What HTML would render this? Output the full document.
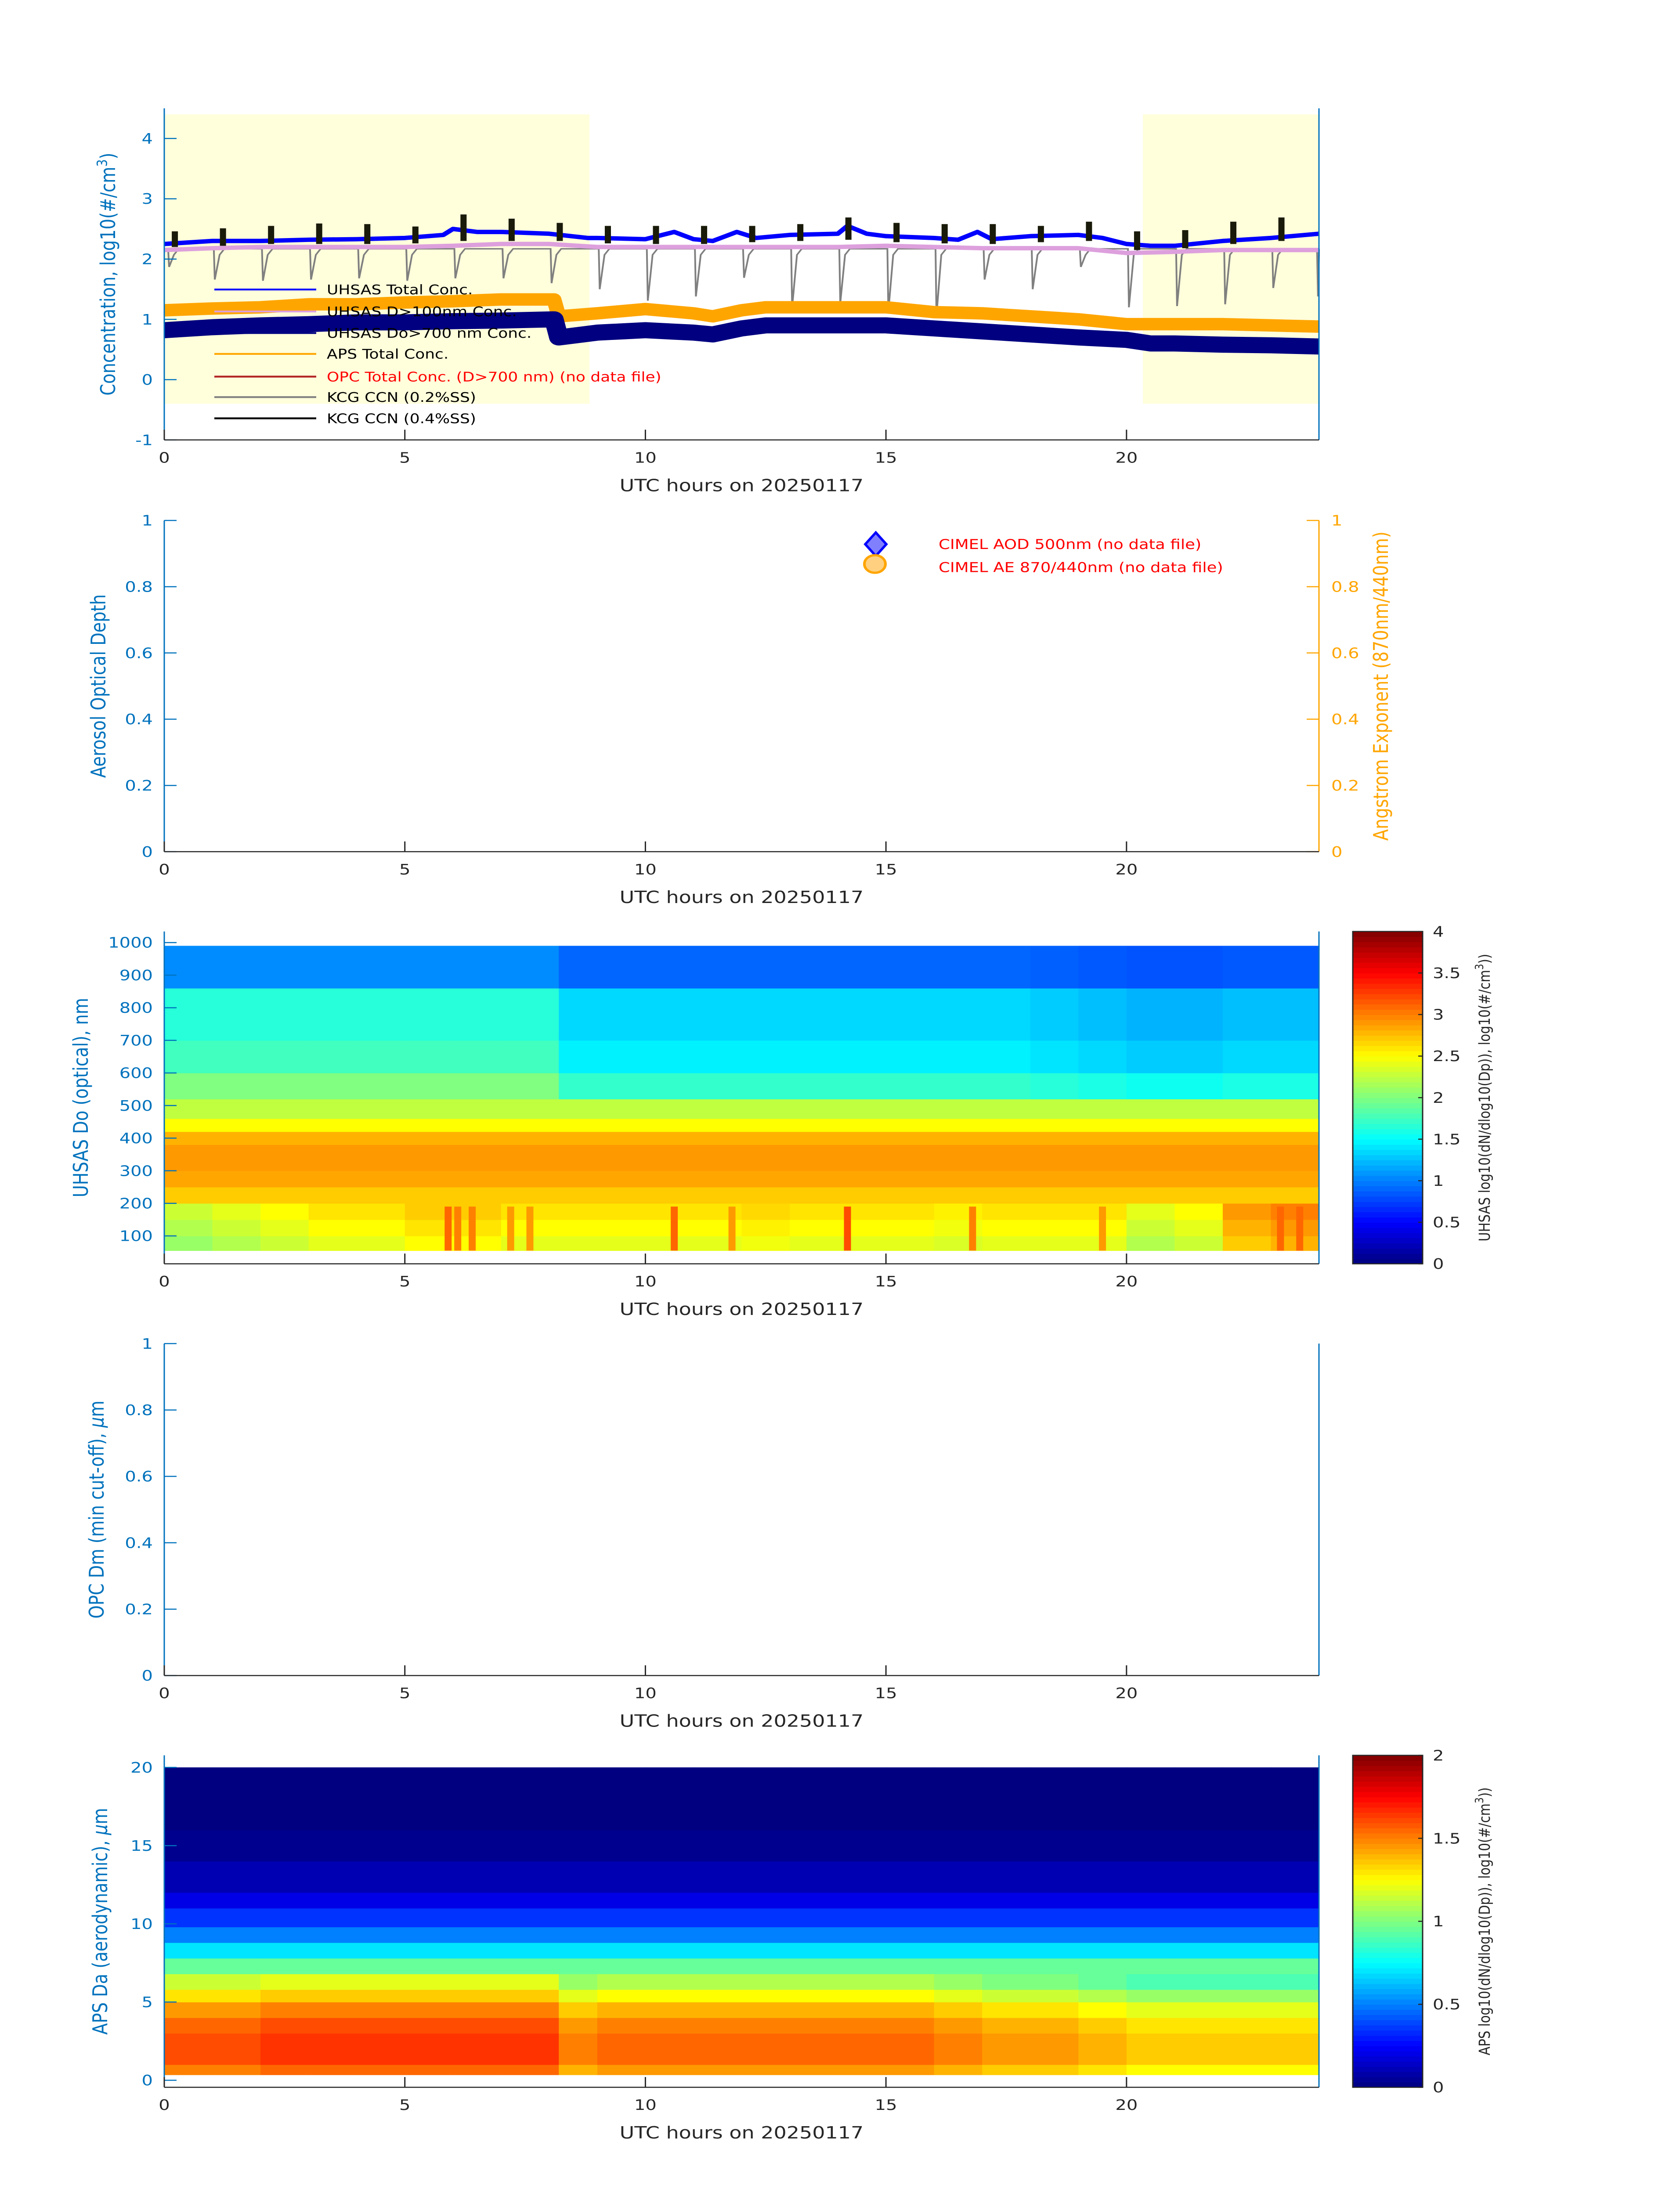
<!DOCTYPE html>
<html><head><meta charset="utf-8"><style>
html,body{margin:0;padding:0;background:#fff;width:100%;height:100%;overflow:hidden;}
svg{display:block;position:absolute;left:0;top:0;width:100vw;height:100vh;font-family:"DejaVu Sans","Liberation Sans",sans-serif;}
</style></head><body>
<svg id="fig" viewBox="0 0 3825 6000" preserveAspectRatio="none" xmlns="http://www.w3.org/2000/svg"></svg>
<script>
// ===== Panel 1 data =====
const uhsasT = [0,1,2,3,4,5,5.8,6,6.5,7,8,8.8,9,10,10.6,11,11.4,11.9,12.3,13,14,14.2,14.6,15,16,16.5,16.9,17.2,18,19,19.5,20,20.5,21,22,23,24];
const uhsasTotal = [2.25,2.3,2.3,2.32,2.33,2.35,2.4,2.5,2.45,2.45,2.42,2.35,2.35,2.33,2.45,2.33,2.3,2.45,2.35,2.4,2.42,2.55,2.42,2.38,2.35,2.32,2.45,2.33,2.38,2.4,2.35,2.25,2.22,2.22,2.3,2.35,2.42];
const hourT = [0,1,2,3,4,5,6,7,8,9,10,11,12,13,14,15,16,17,18,19,20,21,22,23,24];
const uhsas100 = [2.15,2.18,2.2,2.2,2.2,2.2,2.22,2.25,2.25,2.2,2.2,2.2,2.2,2.2,2.2,2.22,2.2,2.18,2.18,2.18,2.1,2.12,2.15,2.15,2.15];
const apsT = [0,1,2,3,4,5,6,7,8.1,8.2,9,10,11,11.4,12,12.5,13,14,15,16,17,18,19,20,20.5,21,22,23,24];
const apsTotal = [1.15,1.18,1.2,1.25,1.25,1.28,1.3,1.33,1.33,1.05,1.1,1.17,1.1,1.05,1.15,1.2,1.2,1.2,1.2,1.12,1.1,1.05,1.0,0.92,0.92,0.92,0.92,0.9,0.88];
const uhsas700 = [0.82,0.87,0.9,0.92,0.95,0.95,0.97,0.98,1.0,0.7,0.78,0.82,0.78,0.75,0.85,0.9,0.9,0.9,0.9,0.85,0.8,0.75,0.7,0.66,0.6,0.6,0.58,0.57,0.55];
const ccn02T = [0.1,1.05,2.05,3.05,4.05,5.05,6.05,7.05,8.05,9.05,10.05,11.05,12.05,13.05,14.05,15.05,16.05,17.05,18.05,19.05,20.05,21.05,22.05,23.05,23.98];
const ccn02Min = [1.87,1.66,1.64,1.66,1.68,1.64,1.68,1.68,1.6,1.5,1.31,1.38,1.69,1.2,1.27,1.13,1.06,1.66,1.5,1.87,1.2,1.22,1.25,1.52,1.38];
const ccn02Base = 2.17;
const ccn04T = [0.22,1.22,2.22,3.22,4.22,5.22,6.22,7.22,8.22,9.22,10.22,11.22,12.22,13.22,14.22,15.22,16.22,17.22,18.22,19.22,20.22,21.22,22.22,23.22];
const ccn04Top = [2.46,2.51,2.55,2.59,2.58,2.54,2.74,2.67,2.6,2.55,2.55,2.55,2.55,2.58,2.69,2.6,2.58,2.58,2.55,2.62,2.46,2.48,2.62,2.69];
const ccn04Bot = [2.2,2.22,2.25,2.25,2.25,2.26,2.3,2.3,2.3,2.26,2.25,2.25,2.28,2.3,2.32,2.28,2.26,2.25,2.28,2.3,2.15,2.18,2.25,2.3];
const shadeStart = [0,20.34];
const shadeEnd = [8.84,24];
// ===== Heatmap data =====
const timeEdges = [0,1,2,3,4,5,6,7,8.2,9,10,11,12,13,14,15,16,17,18,19,20,21,22,23,24];
const uhsasEdges = [55,100,150,200,250,300,380,420,460,520,600,700,860,990];
const uhsasProfile = [2.3,2.4,2.5,2.7,2.85,2.9,2.8,2.5,2.25,2.0,1.75,1.65,1.05];
const uhsasUpShift = [0,0,0,0,0,0,0,0,-0.3,-0.3,-0.3,-0.3,-0.3,-0.3,-0.3,-0.3,-0.3,-0.3,-0.35,-0.4,-0.45,-0.45,-0.4,-0.4];
const uhsasLowShift = [-0.2,-0.1,0,0.1,0.1,0.2,0.2,0.1,0.1,0.1,0.1,0.1,0.15,0.1,0.1,0.1,0.05,0.1,0.1,0.1,-0.1,0,0.4,0.5];
const streakT = [5.9,6.1,6.4,7.2,7.6,10.6,11.8,14.2,16.8,19.5,23.2,23.6];
const streakV = [3.1,3.0,3.0,2.9,2.9,3.1,2.9,3.2,3.0,2.9,3.1,3.1];
const apsEdges = [0.35,1,2,3,4,5,5.8,6.8,7.8,8.8,9.8,11,12,14,16,20];
const apsProfile = [1.5,1.6,1.6,1.55,1.45,1.3,1.15,0.95,0.7,0.5,0.35,0.2,0.1,0.03,0];
const apsLowShift = [0,0,0.05,0.05,0.05,0.05,0.05,0.05,-0.1,-0.05,-0.05,-0.05,-0.05,-0.05,-0.05,-0.05,-0.1,-0.15,-0.15,-0.2,-0.25,-0.25,-0.25,-0.25];
const xTicks = [0,5,10,15,20];

const NS = "http://www.w3.org/2000/svg";
const svg = document.getElementById('fig');
function el(tag, attrs, parent, text){
  const e = document.createElementNS(NS, tag);
  for (const k in attrs) e.setAttribute(k, attrs[k]);
  if (text !== undefined) e.textContent = text;
  (parent||svg).appendChild(e);
  return e;
}
const X0 = 374, X1 = 3003;
function xs(t){ return X0 + (t/24)*(X1-X0); }
function ymap(top, bot, vmin, vmax){ return v => bot - (v-vmin)/(vmax-vmin)*(bot-top); }
function jet(v){
  const t = Math.max(0, Math.min(1, v));
  const c = x => Math.round(255*Math.max(0, Math.min(1, x)));
  return `rgb(${c(1.5-Math.abs(4*t-3))},${c(1.5-Math.abs(4*t-2))},${c(1.5-Math.abs(4*t-1))})`;
}
const BLUE = '#0072BD', DARK = '#262626';

function xAxis(bot, g){
  el('line',{x1:X0,y1:bot,x2:X1,y2:bot,stroke:DARK,'stroke-width':3},g);
  xTicks.forEach(t=>{
    const tk = el('line',{x1:xs(t),y1:bot,x2:xs(t),y2:bot-28,stroke:DARK,'stroke-width':3},g);
    
    
    const tl = el('text',{x:xs(t),y:bot+62,'text-anchor':'middle','font-size':40,fill:DARK},g,String(t));
    
    
  });
  const xt = el('text',{x:(X0+X1)/2,y:bot+140,'text-anchor':'middle','font-size':46,fill:DARK},g,'UTC hours on 20250117');
  
  
}
function yAxis(top, bot, ticks, ymp, g, color, right, labels){
  const x = right ? X1 : X0;
  el('line',{x1:x,y1:top,x2:x,y2:bot,stroke:color,'stroke-width':3},g);
  ticks.forEach((v,i)=>{
    const y = ymp(v);
    const tk = el('line',{x1:x,y1:y,x2:right?x-28:x+28,y2:y,stroke:color,'stroke-width':3},g);
    
    
    const tl = el('text',{x:right?x+28:x-26,y:y+14,'text-anchor':right?'start':'end','font-size':40,fill:color},g,labels?labels[i]:String(v));
    
    
  });
}
function yTitle(x, cy, txt, color, g, name){
  const t = el('text',{x:x,y:cy,'text-anchor':'middle','font-size':46,fill:color,transform:`rotate(-90 ${x} ${cy})`},g);
  t.innerHTML = txt;
  
  
}
function polyline(ts, vs, ymp, color, w, g, name){
  const pts = ts.map((t,i)=>xs(t).toFixed(1)+','+ymp(vs[i]).toFixed(1)).join(' ');
  const p = el('polyline',{points:pts,fill:'none',stroke:color,'stroke-width':w,'stroke-linejoin':'round'},g);
  
  
  return p;
}

// ===== Panel 1 =====
(function(){
  const top=296, bot=1202;
  const y = ymap(top, bot, -1, 4.5);
  const g = el('g',{});
  
  
  shadeStart.forEach((s,i)=>{
    const r = el('rect',{x:xs(s),y:y(4.4),width:xs(shadeEnd[i])-xs(s),height:y(-0.4)-y(4.4),fill:'#FFFFDC'},g);
    
    
  });
  let pts=[];
  ccn02T.forEach((t,i)=>{ pts.push([t-0.02,ccn02Base],[t,ccn02Min[i]],[t+0.1,ccn02Base-0.1],[t+0.2,ccn02Base]); });
  const gp = el('polyline',{points:pts.map(p=>xs(Math.min(24,Math.max(0,p[0]))).toFixed(1)+','+y(p[1]).toFixed(1)).join(' '),fill:'none',stroke:'#808080','stroke-width':4},g);
  
  
  polyline(hourT, uhsas100, y, '#DDA0DD', 12, g, 'uhsas-d100-line');
  polyline(uhsasT, uhsasTotal, y, '#0000FF', 12, g, 'uhsas-total-line');
  polyline(apsT, apsTotal, y, '#FFA500', 34, g, 'aps-total-line');
  polyline(apsT, uhsas700, y, '#000080', 44, g, 'uhsas-d700-line');
  ccn04T.forEach((t,i)=>{
    const r = el('rect',{x:xs(t)-7,y:y(ccn04Top[i]),width:14,height:y(ccn04Bot[i])-y(ccn04Top[i]),fill:'#1a1a0a'},g);
    
    
  });
  yAxis(top, bot, [-1,0,1,2,3,4], y, g, BLUE, false);
  el('line',{x1:X1,y1:top,x2:X1,y2:bot,stroke:BLUE,'stroke-width':3},g);
  xAxis(bot, g);
  yTitle(262, (top+bot)/2, 'Concentration, log10(#/cm<tspan baseline-shift="super" font-size="32">3</tspan>)', BLUE, g, 'y-axis-title');
  const leg = [['UHSAS Total Conc.','#0000FF','#000'],['UHSAS D>100nm Conc.','#DDA0DD','#000'],['UHSAS Do>700 nm Conc.','#000080','#000'],['APS Total Conc.','#FFA500','#000'],['OPC Total Conc. (D>700 nm) (no data file)','#B22222','#FF0000'],['KCG CCN (0.2%SS)','#808080','#000'],['KCG CCN (0.4%SS)','#000000','#000']];
  const legY = [791,851,910,967,1029,1085,1143];
  leg.forEach((L,i)=>{
    const ln = el('line',{x1:488,y1:legY[i],x2:720,y2:legY[i],stroke:L[1],'stroke-width':5},g);
    
    
    const tx = el('text',{x:744,y:legY[i]+13,'font-size':36,fill:L[2]},g,L[0]);
    
    
  });
})();

// ===== Panel 2 =====
(function(){
  const top=1422, bot=2327;
  const y = ymap(top, bot, 0, 1);
  const g = el('g',{});
  
  
  const tk=[0,0.2,0.4,0.6,0.8,1], lb=['0','0.2','0.4','0.6','0.8','1'];
  yAxis(top, bot, tk, y, g, BLUE, false, lb);
  yAxis(top, bot, tk, y, g, '#FFA500', true, lb);
  xAxis(bot, g);
  yTitle(240, (top+bot)/2, 'Aerosol Optical Depth', BLUE, g, 'y-axis-title-left');
  yTitle(3160, (top+bot)/2, 'Angstrom Exponent (870nm/440nm)', '#FFA500', g, 'y-axis-title-right');
  const d = el('polygon',{points:'1994,1455 2018,1487 1994,1519 1970,1487',fill:'#8080FF',stroke:'#0000FF','stroke-width':6},g);
  
  
  const c = el('ellipse',{cx:1992,cy:1541,rx:24,ry:24,fill:'#FFD080',stroke:'#FFA500','stroke-width':6},g);
  
  
  const t1 = el('text',{x:2137,y:1500,'font-size':37,fill:'#FF0000'},g,'CIMEL AOD 500nm (no data file)');
  
  
  const t2 = el('text',{x:2137,y:1563,'font-size':37,fill:'#FF0000'},g,'CIMEL AE 870/440nm (no data file)');
  
  
})();

function colorbar(top, bot, vmax, ticks, label, g){
  const cx0=3080, cx1=3239, n=64;
  for(let i=0;i<n;i++){
    const y0 = bot - (i+1)/n*(bot-top);
    el('rect',{x:cx0,y:y0,width:cx1-cx0,height:(bot-top)/n+1,fill:jet((i+0.5)/n)},g);
  }
  const b = el('rect',{x:cx0,y:top,width:cx1-cx0,height:bot-top,fill:'none',stroke:DARK,'stroke-width':3},g);
  
  
  ticks.forEach(v=>{
    const yy = bot - v/vmax*(bot-top);
    el('line',{x1:cx1,y1:yy,x2:cx1-10,y2:yy,stroke:DARK,'stroke-width':3},g);
    const t = el('text',{x:3262,y:yy+14,'font-size':40,fill:DARK},g,String(v));
    
    
  });
  const cx=3392, cy=(top+bot)/2;
  const t = el('text',{x:cx,y:cy,'text-anchor':'middle','font-size':35,fill:DARK,transform:`rotate(-90 ${cx} ${cy})`},g);
  t.innerHTML = label+' log10(dN/dlog10(Dp)), log10(#/cm<tspan baseline-shift="super" font-size="26">3</tspan>))';
  
  
}

// ===== Panel 3 UHSAS =====
(function(){
  const top=2545, bot=3453;
  const y = ymap(top, bot, 14.5, 1034);
  const g = el('g',{});
  
  
  for(let c=0;c<timeEdges.length-1;c++){
    for(let r=0;r<uhsasEdges.length-1;r++){
      let v = uhsasProfile[r];
      if (r<=2) v += uhsasLowShift[c];
      if (r>=9 && r<=11) v += uhsasUpShift[c];
      if (r===12) v += 0.5*uhsasUpShift[c];
      const x0=xs(timeEdges[c]), x1=xs(timeEdges[c+1]);
      const cell = el('rect',{x:x0,y:y(uhsasEdges[r+1]),width:x1-x0+0.8,height:y(uhsasEdges[r])-y(uhsasEdges[r+1])+0.8,fill:jet(v/4)},g);
      
      
    }
  }
  streakT.forEach((t,i)=>{
    const s = el('rect',{x:xs(t)-8,y:y(190),width:16,height:y(55)-y(190),fill:jet(streakV[i]/4)},g);
    
    
  });
  yAxis(top, bot, [100,200,300,400,500,600,700,800,900,1000], y, g, BLUE, false);
  el('line',{x1:X1,y1:top,x2:X1,y2:bot,stroke:BLUE,'stroke-width':3},g);
  xAxis(bot, g);
  yTitle(200, (top+bot)/2, 'UHSAS Do (optical), nm', BLUE, g, 'y-axis-title');
  colorbar(top, bot, 4, [0,0.5,1,1.5,2,2.5,3,3.5,4], 'UHSAS', g);
})();

// ===== Panel 4 OPC =====
(function(){
  const top=3671, bot=4578;
  const y = ymap(top, bot, 0, 1);
  const g = el('g',{});
  
  
  yAxis(top, bot, [0,0.2,0.4,0.6,0.8,1], y, g, BLUE, false, ['0','0.2','0.4','0.6','0.8','1']);
  el('line',{x1:X1,y1:top,x2:X1,y2:bot,stroke:BLUE,'stroke-width':3},g);
  xAxis(bot, g);
  yTitle(236, (top+bot)/2, 'OPC Dm (min cut-off), <tspan font-style="italic">μ</tspan>m', BLUE, g, 'y-axis-title');
})();

// ===== Panel 5 APS =====
(function(){
  const top=4796, bot=5703;
  const y = ymap(top, bot, -0.45, 20.77);
  const g = el('g',{});
  
  
  for(let c=0;c<timeEdges.length-1;c++){
    for(let r=0;r<apsEdges.length-1;r++){
      let v = apsProfile[r];
      if (r<=6) v += apsLowShift[c];
      const x0=xs(timeEdges[c]), x1=xs(timeEdges[c+1]);
      const cell = el('rect',{x:x0,y:y(apsEdges[r+1]),width:x1-x0+0.8,height:y(apsEdges[r])-y(apsEdges[r+1])+0.8,fill:jet(v/2)},g);
      
      
    }
  }
  yAxis(top, bot, [0,5,10,15,20], y, g, BLUE, false);
  el('line',{x1:X1,y1:top,x2:X1,y2:bot,stroke:BLUE,'stroke-width':3},g);
  xAxis(bot, g);
  yTitle(244, (top+bot)/2, 'APS Da (aerodynamic), <tspan font-style="italic">μ</tspan>m', BLUE, g, 'y-axis-title');
  colorbar(top, bot, 2, [0,0.5,1,1.5,2], 'APS', g);
})();
</script>
</body></html>
